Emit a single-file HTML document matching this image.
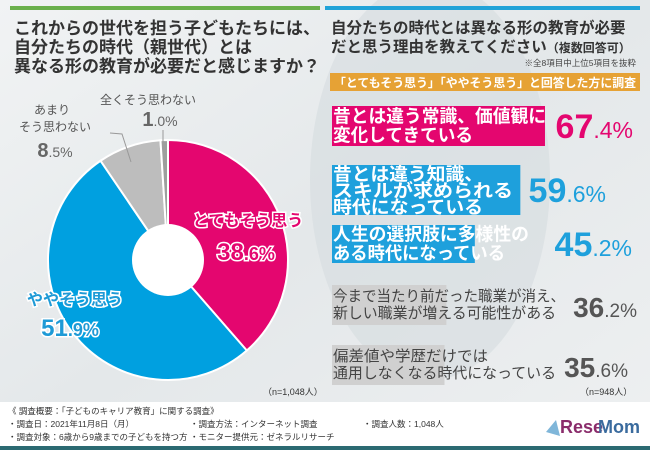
<!DOCTYPE html>
<html><head><meta charset="utf-8">
<style>
body{margin:0;width:650px;height:450px;overflow:hidden;font-family:"Liberation Sans","Noto Sans CJK JP",sans-serif;}
svg text{font-family:"Liberation Sans","Noto Sans CJK JP",sans-serif;}
</style></head><body>
<svg id="chart" width="650" height="450" viewBox="0 0 650 450">
<defs>
<linearGradient id="bg" x1="0" y1="0" x2="1" y2="1">
<stop offset="0" stop-color="#f1f3f4"/><stop offset="0.5" stop-color="#e4e8ea"/><stop offset="1" stop-color="#eef0f1"/>
</linearGradient>
</defs>
<rect width="650" height="450" fill="url(#bg)"/>
<ellipse cx="430" cy="180" rx="120" ry="200" fill="#d6dcdf" opacity="0.6"/>
<rect x="10" y="6" width="310" height="4" fill="#6ab04c"/>
<rect x="325" y="6" width="315" height="4" fill="#21a3d8"/>
<g font-weight="bold" fill="#333" font-size="17">
<text x="14" y="34">これからの世代を担う子どもたちには、</text>
<text x="14" y="53">自分たちの時代（親世代）とは</text>
<text x="14" y="72">異なる形の教育が必要だと感じますか？</text>
</g>
<g font-weight="bold" fill="#333" font-size="15.5">
<text x="331" y="33">自分たちの時代とは異なる形の教育が必要</text>
<text x="331" y="52">だと思う理由を教えてください<tspan font-size="12">（複数回答可）</tspan></text>
</g>
<text x="636" y="66" text-anchor="end" font-size="8.5" fill="#444">※全8項目中上位5項目を抜粋</text>
<rect x="330" y="73" width="310" height="18" fill="#e6a235"/>
<text x="334" y="87" font-size="12" fill="#fff" font-weight="bold" textLength="302" lengthAdjust="spacingAndGlyphs">「とてもそう思う」「ややそう思う」と回答した方に調査</text>
<g id="pie"></g>
<g id="pielabels">
<text x="148" y="104" font-size="12" fill="#555" text-anchor="middle">全くそう思わない</text>
<text x="160" y="126" font-size="20" fill="#666" text-anchor="middle"><tspan font-weight="bold">1</tspan><tspan font-size="14">.0%</tspan></text>
<text x="52" y="114" font-size="12" fill="#555" text-anchor="middle">あまり</text>
<text x="55" y="131" font-size="12" fill="#555" text-anchor="middle">そう思わない</text>
<text x="55" y="157" font-size="20" fill="#666" text-anchor="middle"><tspan font-weight="bold">8</tspan><tspan font-size="14">.5%</tspan></text>
<polyline points="110,133 122,134 131,162" fill="none" stroke="#999"/>
<line x1="163" y1="130" x2="163" y2="142" stroke="#999"/>
<g stroke="#fff" stroke-width="3" paint-order="stroke" font-weight="bold">
<text x="248" y="226" font-size="16" fill="#e4066f" text-anchor="middle">とてもそう思う</text>
<text x="246" y="260" font-size="24" fill="#e4066f" text-anchor="middle">38<tspan font-size="18">.6%</tspan></text>
<text x="75" y="305" font-size="16" fill="#1e9ad6" text-anchor="middle">ややそう思う</text>
<text x="70" y="336" font-size="24" fill="#1e9ad6" text-anchor="middle">51<tspan font-size="18">.9%</tspan></text>
</g>
</g>
<text x="263" y="395" font-size="9" fill="#333">（n=1,048人）</text>
<text x="580" y="395" font-size="9" fill="#333">（n=948人）</text>
<g id="bars"></g>
<rect x="0" y="402" width="650" height="44" fill="#fff"/>
<g font-size="8.5" fill="#333">
<text x="8" y="414">《 調査概要：「子どものキャリア教育」に関する調査》</text>
<text x="8" y="427">・調査日：2021年11月8日（月）</text>
<text x="8" y="440">・調査対象：6歳から9歳までの子どもを持つ方</text>
<text x="190" y="427">・調査方法：インターネット調査</text>
<text x="190" y="440">・モニター提供元：ゼネラルリサーチ</text>
<text x="363" y="427">・調査人数：1,048人</text>
</g>
<g>
<polygon points="546,432 556,420 560,436" fill="#7fb6d9"/>
<text x="560" y="433" font-size="18" font-weight="bold" fill="#8a2c6b">Rese</text>
<text x="598" y="433" font-size="18" font-weight="bold" fill="#3a6b9e">Mom</text>
</g>
<rect x="0" y="446" width="650" height="4" fill="#2b6a72"/>
</svg>
<script>
const pieLabels = ["とてもそう思う","ややそう思う","あまりそう思わない","全くそう思わない"];
const pieValues = [38.6, 51.9, 8.5, 1.0];
const pieColors = ["#e4066f","#00a0e0","#bdbdbd","#9e9e9e"];
const barLabels = [["昔とは違う常識、価値観に","変化してきている"],["昔とは違う知識、","スキルが求められる","時代になっている"],["人生の選択肢に多様性の","ある時代になっている"],["今まで当たり前だった職業が消え、","新しい職業が増える可能性がある"],["偏差値や学歴だけでは","通用しなくなる時代になっている"]];
const barValues = [67.4, 59.6, 45.2, 36.2, 35.6];
const barColors = ["#e4066f","#1ea0dc","#1ea0dc","#d0d0d0","#d0d0d0"];

const NS="http://www.w3.org/2000/svg";
const cx=168, cy=260, R=120, r0=36;
const total=pieValues.reduce((a,b)=>a+b,0);
const pie=document.getElementById('pie');
let ang=0;
function pt(a,rr){return [cx+rr*Math.sin(a), cy-rr*Math.cos(a)];}
pieValues.forEach((v,i)=>{
  const a0=ang/total*2*Math.PI, a1=(ang+v)/total*2*Math.PI; ang+=v;
  const [x0,y0]=pt(a0,R),[x1,y1]=pt(a1,R);
  const large=(a1-a0)>Math.PI?1:0;
  const p=document.createElementNS(NS,'path');
  p.setAttribute('d',`M${cx},${cy} L${x0},${y0} A${R},${R} 0 ${large} 1 ${x1},${y1} Z`);
  p.setAttribute('fill',pieColors[i]);p.setAttribute('stroke','#fff');p.setAttribute('stroke-width','2');
  
  
  pie.appendChild(p);
});
const hole=document.createElementNS(NS,'circle');
hole.setAttribute('cx',cx);hole.setAttribute('cy',cy);hole.setAttribute('r',r0);hole.setAttribute('fill','#fff');


pie.appendChild(hole);

const bars=document.getElementById('bars');
const x0=332, scale=3.16;
const rowTop=[106,165,225,285,345];
const rowH=[40,50,38,40,40];
const textW=[[213,140],[150,180,150],[196,172],[232,223],[155,223]];
const valueEnd=[633,606,632,637,628];
barValues.forEach((v,i)=>{
  const w=v*scale, y=rowTop[i], h=rowH[i];
  const rect=document.createElementNS(NS,'rect');
  rect.setAttribute('x',x0);rect.setAttribute('y',y);rect.setAttribute('width',w);rect.setAttribute('height',h);
  rect.setAttribute('fill',barColors[i]);
  
  
  bars.appendChild(rect);
  const big=i<3;
  const lines=barLabels[i];
  const fs=big?18:15, lh=big?(lines.length>2?16.5:19):17;
  const startY=y+ (h-lh*lines.length)/2 + fs*0.86;
  lines.forEach((ln,j)=>{
    const t=document.createElementNS(NS,'text');
    t.setAttribute('x',x0+1);t.setAttribute('y',startY+j*lh);
    t.setAttribute('font-size',fs);
    t.setAttribute('fill',big?'#fff':'#444');
    t.setAttribute('textLength',textW[i][j]);
    t.setAttribute('lengthAdjust','spacingAndGlyphs');
    if(big){t.setAttribute('font-weight','bold');}
    t.textContent=ln;
    
    
    bars.appendChild(t);
  });
  const vt=document.createElementNS(NS,'text');
  const s=v.toFixed(1).split('.');
  vt.setAttribute('x',valueEnd[i]);vt.setAttribute('y',y+h/2+12);
  vt.setAttribute('text-anchor','end');
  vt.setAttribute('font-weight','bold');
  vt.setAttribute('font-size',big?34:28);
  vt.setAttribute('fill',i===0?'#e4066f':(big?'#1ea0dc':'#555'));
  vt.innerHTML=s[0]+'<tspan font-size="'+(big?23:19)+'" font-weight="normal">.'+s[1]+'%</tspan>';
  
  
  bars.appendChild(vt);
});
</script>
</body></html>
